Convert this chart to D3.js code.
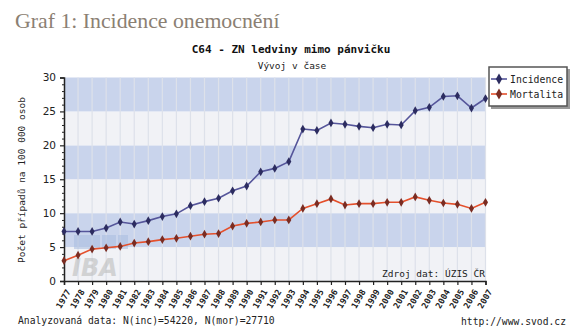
<!DOCTYPE html>
<html><head><meta charset="utf-8">
<script src="https://cdn.jsdelivr.net/npm/d3@7"></script>
<style>body{margin:0;background:#fff}svg{display:block}</style>
</head><body>
<script>
const years = d3.range(1977, 2008);
const incidence = [7.3,7.3,7.3,7.8,8.7,8.4,8.9,9.5,9.9,11.1,11.7,12.2,13.3,14.0,16.1,16.6,17.6,22.4,22.2,23.3,23.1,22.8,22.6,23.1,23.0,25.1,25.6,27.2,27.3,25.5,26.9];
const mortalita = [3.0,3.8,4.7,4.9,5.1,5.6,5.8,6.1,6.3,6.6,6.9,7.0,8.1,8.5,8.7,9.0,9.0,10.7,11.4,12.1,11.2,11.4,11.4,11.6,11.6,12.4,11.9,11.5,11.3,10.7,11.6];
const yTicks = [0,5,10,15,20,25,30];
const seriesNames = ["Incidence","Mortalita"];

const W = 582, H = 335;
const mono = "'DejaVu Sans Mono', monospace";
const svg = d3.select("body").append("svg").attr("width", W).attr("height", H);

svg.append("text").attr("x", 15).attr("y", 28)
  .attr("font-family", "'Liberation Serif', serif").attr("font-size", 21.8)
  .attr("fill", "#8b8073").text("Graf 1: Incidence onemocnění");

const x = d3.scaleLinear().domain([1977, 2007]).range([64, 485.5]);
const y = d3.scaleLinear().domain([0, 30]).range([281, 77.5]);

// bands
const g = svg.append("g");
[0,5,10,15,20,25].forEach((v,i) => {
  g.append("rect").attr("x", x(1977)).attr("width", x(2007)-x(1977))
    .attr("y", y(v+5)).attr("height", y(v)-y(v+5))
    .attr("fill", i % 2 === 1 ? "#c9d4ec" : "#f1f2f6");
});
// vertical grid
g.selectAll("line.vg").data(years.slice(1)).join("line")
  .attr("x1", d => x(d)).attr("x2", d => x(d)).attr("y1", y(30)).attr("y2", y(0))
  .attr("stroke", "#dde1ea").attr("stroke-width", 1.2);

// watermark
const wm = svg.append("g").attr("opacity", 0.55);
wm.append("rect").attr("x", 74).attr("y", 235).attr("width", 26).attr("height", 14).attr("fill", "#a9bde0");
wm.append("rect").attr("x", 102).attr("y", 235).attr("width", 14).attr("height", 14).attr("fill", "#a9bde0");
wm.append("rect").attr("x", 118).attr("y", 235).attr("width", 10).attr("height", 14).attr("fill", "#a9bde0");
wm.append("text").attr("x", 72).attr("y", 276).attr("font-family", "'DejaVu Sans', sans-serif")
  .attr("font-weight", "bold").attr("font-style", "italic").attr("font-size", 24)
  .attr("fill", "#b8b8b8").text("IBA");

// axes
const yAxis = d3.axisLeft(y).tickValues(yTicks).tickSize(4).tickPadding(4);
const yg = svg.append("g").attr("transform", `translate(${x(1977)},0)`).call(yAxis);
yg.selectAll(".tick text").attr("font-family", "'DejaVu Sans', sans-serif").attr("font-size", 10.5).attr("fill", "#222");
yg.select(".domain").attr("stroke", "#222").attr("stroke-width", 1.5);
yg.selectAll(".tick line").attr("stroke", "#222").attr("stroke-width", 1.2);
const yMinor = d3.axisLeft(y).tickValues(d3.range(0, 31).filter(v => v % 5)).tickSize(2).tickFormat("");
const ym = svg.append("g").attr("transform", `translate(${x(1977)},0)`).call(yMinor);
ym.select(".domain").remove();
ym.selectAll(".tick line").attr("stroke", "#222");

const xAxis = d3.axisBottom(x).tickValues(years).tickFormat(d3.format("d")).tickSize(4).tickPadding(3);
const xg = svg.append("g").attr("transform", `translate(0,${y(0)})`).call(xAxis);
xg.select(".domain").attr("stroke", "#222").attr("stroke-width", 1.5);
xg.selectAll(".tick line").attr("stroke", "#222").attr("stroke-width", 1.2);
xg.selectAll(".tick text").attr("font-family", mono).attr("font-size", 8.5).attr("font-weight", "bold")
  .attr("fill", "#222").attr("text-anchor", "end")
  .attr("transform", "translate(4,9) rotate(-60)").attr("y", 0).attr("x", 0).attr("dy", "0.35em");

// y label
svg.append("text").attr("transform", "translate(25,180) rotate(-90)").attr("text-anchor", "middle")
  .attr("font-family", mono).attr("font-size", 9.5).attr("fill", "#222")
  .text("Počet případů na 100 000 osob");

// titles
svg.append("text").attr("x", 291).attr("y", 53).attr("text-anchor", "middle")
  .attr("font-family", mono).attr("font-weight", "bold").attr("font-size", 11).attr("fill", "#111")
  .text("C64 - ZN ledviny mimo pánvičku");
svg.append("text").attr("x", 292).attr("y", 69).attr("text-anchor", "middle")
  .attr("font-family", mono).attr("font-size", 9.5).attr("fill", "#222").text("Vývoj v čase");

// lines
const series = [
  {name: seriesNames[0], values: incidence, line: "#55559a", dot: "#2c2c60"},
  {name: seriesNames[1], values: mortalita, line: "#e4502c", dot: "#7a2c22"}
];
const lineGen = d3.line().x((d,i) => x(years[i])).y(d => y(d));
const diamond = d3.symbol().type(d3.symbolDiamond).size(22);
series.forEach(s => {
  svg.append("path").attr("d", lineGen(s.values)).attr("fill", "none")
    .attr("stroke", s.line).attr("stroke-width", 1.6);
  svg.append("g").selectAll("path").data(s.values).join("path")
    .attr("d", diamond).attr("transform", (d,i) => `translate(${x(years[i])},${y(d)})`)
    .attr("fill", s.dot);
});

// source texts
svg.append("text").attr("x", 485).attr("y", 277).attr("text-anchor", "end")
  .attr("font-family", mono).attr("font-size", 9.5).attr("fill", "#222").text("Zdroj dat: ÚZIS ČR");
svg.append("text").attr("x", 18).attr("y", 324)
  .attr("font-family", mono).attr("font-size", 9.7).attr("fill", "#222")
  .text("Analyzovaná data: N(inc)=54220, N(mor)=27710");
svg.append("text").attr("x", 566).attr("y", 325).attr("text-anchor", "end")
  .attr("font-family", mono).attr("font-size", 9.7).attr("fill", "#222").text("http://www.svod.cz");

// legend
const lg = svg.append("g");
lg.append("rect").attr("x", 491).attr("y", 69).attr("width", 79).attr("height", 40).attr("fill", "#999");
lg.append("rect").attr("x", 489).attr("y", 67).attr("width", 78).attr("height", 39)
  .attr("fill", "#fff").attr("stroke", "#555").attr("stroke-width", 1.5);
series.forEach((s, i) => {
  const yy = 79 + i * 15;
  lg.append("line").attr("x1", 491).attr("x2", 507).attr("y1", yy).attr("y2", yy)
    .attr("stroke", s.line).attr("stroke-width", 1.6);
  lg.append("path").attr("d", d3.symbol().type(d3.symbolDiamond).size(34)).attr("transform", `translate(499,${yy})`)
    .attr("fill", s.dot);
  lg.append("text").attr("x", 510).attr("y", yy + 3.5).attr("font-family", mono).attr("font-size", 9.8)
    .attr("fill", "#222").text(s.name);
});
</script>
</body></html>
